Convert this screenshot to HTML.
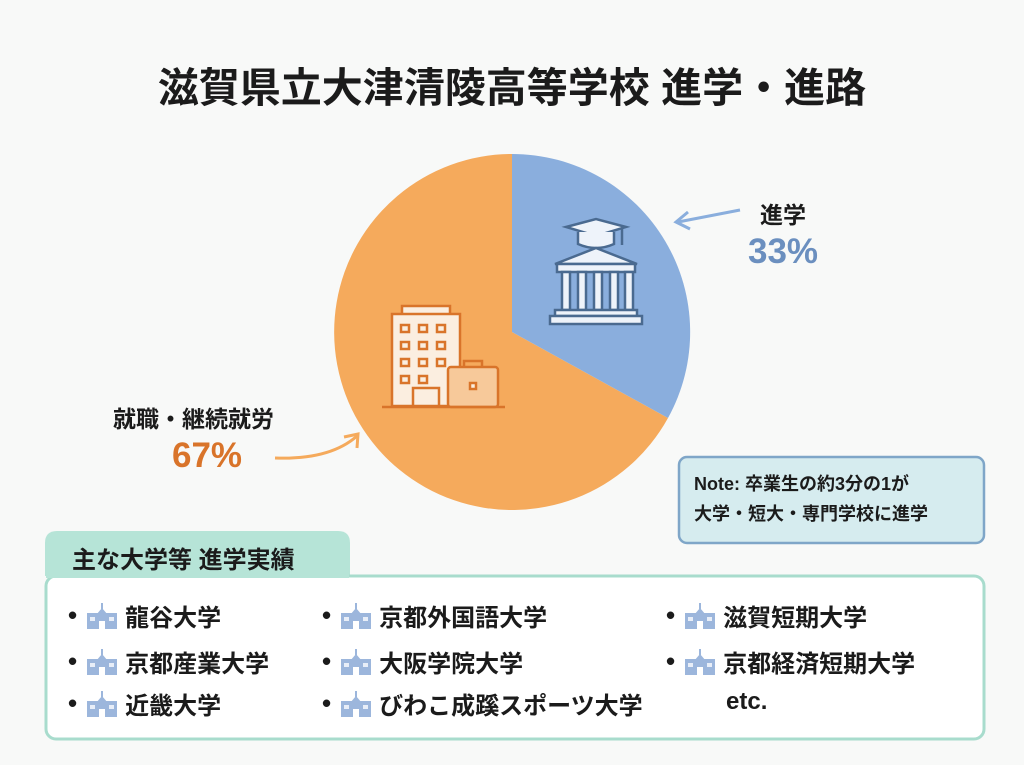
<!DOCTYPE html>
<html><head><meta charset="utf-8"><style>
body{margin:0;width:1024px;height:765px;background:#f8f9f8;font-family:"Liberation Sans","Noto Sans CJK JP",sans-serif;overflow:hidden;position:relative}
.a{position:absolute;white-space:nowrap;font-weight:bold;color:#1b1b1b}
.it{position:absolute;font-size:24px;font-weight:bold;color:#1b1b1b;white-space:nowrap;display:flex;align-items:center}
.it b{font-size:26px;margin-right:10px}
.ic{display:inline-block;margin-right:8px}
</style></head><body>
<div class="a" style="left:0;width:1024px;text-align:center;top:54px;font-size:41px">滋賀県立大津清陵高等学校 進学・進路</div>
<svg width="1024" height="765" style="position:absolute;left:0;top:0">
<path d="M512,332 L668,418 A178,178 0 1 1 512,154 Z" fill="#f5aa5c"/>
<path d="M512,332 L512,154 A178,178 0 0 1 668,418 Z" fill="#8aaedd"/>
<g stroke="#4a6a90" stroke-width="2.5" fill="#eef3fa">
<path d="M566,227 L596,219 L626,227 L596,236 Z"/><path d="M578,232 v12 q18,8 36,0 v-12" />
<line x1="622" y1="228" x2="622" y2="245"/>
<path d="M555,264 L596,248 L637,264 Z"/><rect x="557" y="264" width="78" height="8"/>
<rect x="562" y="272" width="8" height="38"/><rect x="578" y="272" width="8" height="38"/><rect x="594" y="272" width="8" height="38"/><rect x="610" y="272" width="8" height="38"/><rect x="625" y="272" width="8" height="38"/>
<rect x="555" y="310" width="82" height="6"/><rect x="550" y="316" width="92" height="8"/>
</g>
<g stroke="#d9742a" stroke-width="2.5" fill="#fbeee0">
<rect x="402" y="306" width="48" height="10"/><rect x="392" y="314" width="68" height="92"/>
<g fill="none"><rect x="401" y="325" width="8" height="7"/><rect x="419" y="325" width="8" height="7"/><rect x="437" y="325" width="8" height="7"/>
<rect x="401" y="342" width="8" height="7"/><rect x="419" y="342" width="8" height="7"/><rect x="437" y="342" width="8" height="7"/>
<rect x="401" y="359" width="8" height="7"/><rect x="419" y="359" width="8" height="7"/><rect x="437" y="359" width="8" height="7"/>
<rect x="401" y="376" width="8" height="7"/><rect x="419" y="376" width="8" height="7"/></g>
<rect x="413" y="388" width="26" height="18"/>
<rect x="448" y="367" width="50" height="40" rx="3" fill="#f7c99a"/><path d="M464,367 v-6 h18 v6" fill="none"/><rect x="470" y="383" width="6" height="6"/>
<line x1="382" y1="407" x2="505" y2="407"/>
</g>
<path d="M740,210 L678,222" stroke="#8aaedd" stroke-width="3" fill="none"/><path d="M688,212 L676,222 L690,229" stroke="#8aaedd" stroke-width="3" fill="none"/>
<path d="M275,458 Q330,460 357,436" stroke="#f5aa5c" stroke-width="3" fill="none"/><path d="M344,437 L358,434 L357,448" stroke="#f5aa5c" stroke-width="3" fill="none"/>
<rect x="679" y="457" width="305" height="86" rx="8" fill="#d6ecef" stroke="#7fa6c8" stroke-width="2.5"/>
<path d="M45,576 V543 q0,-12 12,-12 H338 q12,0 12,12 V576 Z" fill="#b6e4d7"/>
<rect x="46" y="576" width="938" height="163" rx="10" fill="#fff" stroke="#a8dccd" stroke-width="3"/>
<rect x="46" y="560" width="303" height="18" fill="#b6e4d7"/>
</svg>
<div class="a" style="left:760px;top:196px;font-size:23px">進学</div>
<div class="a" style="left:748px;top:232px;font-size:35px;color:#6b8fbf">33%</div>
<div class="a" style="left:113px;top:400px;font-size:23px">就職・継続就労</div>
<div class="a" style="left:172px;top:436px;font-size:35px;color:#d9742a">67%</div>
<div class="a" style="left:694px;top:469px;font-size:18px;line-height:30px">Note: 卒業生の約3分の1が<br>大学・短大・専門学校に進学</div>
<div class="a" style="left:72px;top:540px;font-size:24px">主な大学等 進学実績</div>
<svg width="0" height="0" style="position:absolute"><defs><g id="s"><rect x="0" y="10" width="30" height="16" fill="#9cb6dc"/><path d="M9,12 L15,5 L21,12 Z" fill="#9cb6dc"/><line x1="15" y1="0" x2="15" y2="6" stroke="#9cb6dc" stroke-width="2"/><rect x="12" y="18" width="6" height="8" fill="#fff"/><rect x="3" y="14" width="5" height="4" fill="#e8eef8"/><rect x="22" y="14" width="5" height="4" fill="#e8eef8"/></g></defs></svg>
<div class="it" style="left:68px;top:598px"><b>•</b><svg class="ic" width="30" height="26"><use href="#s"/></svg>龍谷大学</div>
<div class="it" style="left:68px;top:644px"><b>•</b><svg class="ic" width="30" height="26"><use href="#s"/></svg>京都産業大学</div>
<div class="it" style="left:68px;top:686px"><b>•</b><svg class="ic" width="30" height="26"><use href="#s"/></svg>近畿大学</div>
<div class="it" style="left:322px;top:598px"><b>•</b><svg class="ic" width="30" height="26"><use href="#s"/></svg>京都外国語大学</div>
<div class="it" style="left:322px;top:644px"><b>•</b><svg class="ic" width="30" height="26"><use href="#s"/></svg>大阪学院大学</div>
<div class="it" style="left:322px;top:686px"><b>•</b><svg class="ic" width="30" height="26"><use href="#s"/></svg>びわこ成蹊スポーツ大学</div>
<div class="it" style="left:666px;top:598px"><b>•</b><svg class="ic" width="30" height="26"><use href="#s"/></svg>滋賀短期大学</div>
<div class="it" style="left:666px;top:644px"><b>•</b><svg class="ic" width="30" height="26"><use href="#s"/></svg>京都経済短期大学</div>
<div class="it" style="left:726px;top:688px">etc.</div>
</body></html>
